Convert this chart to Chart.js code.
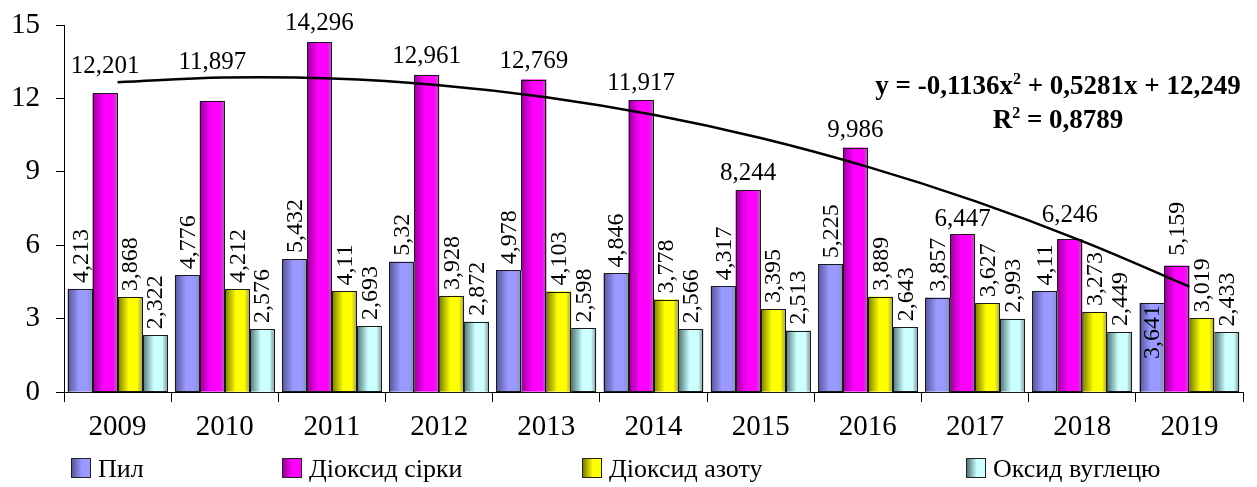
<!DOCTYPE html>
<html>
<head>
<meta charset="utf-8">
<script src="https://cdn.jsdelivr.net/npm/chart.js@4"></script>
<style>
  body { margin: 0; background: #fff; }
  #wrap { position: relative; width: 1257px; height: 487px; font-family: "Liberation Serif", "Times New Roman", serif; color: #000; }
  #chart { position: absolute; left: 0; top: 0; }
  .legend-item { position: absolute; top: 456px; font-family: "Liberation Serif", "Times New Roman", serif; font-size: 26px; line-height: 26px; white-space: nowrap; }
  .legend-box { display: inline-block; width: 18px; height: 18px; border: 1px solid #222; vertical-align: -1px; margin-right: 7px; }
  #equation { position: absolute; left: 860px; width: 396px; top: 68px; text-align: center; font-weight: bold; font-size: 27px; line-height: 34px; }
  #equation sup { font-size: 16px; vertical-align: 10px; line-height: 0; }
</style>
</head>
<body>
<div id="wrap">
  <canvas id="chart" width="1257" height="487"></canvas>
  <div id="legend"></div>
  <div id="equation">y = -0,1136x<sup>2</sup> + 0,5281x + 12,249<br>R<sup>2</sup> = 0,8789</div>
</div>
<script>
const years = ['2009', '2010', '2011', '2012', '2013', '2014', '2015', '2016', '2017', '2018', '2019'];
const seriesNames = ['Пил', 'Діоксид сірки', 'Діоксид азоту', 'Оксид вуглецю'];
const dust = [4.213, 4.776, 5.432, 5.32, 4.978, 4.846, 4.317, 5.225, 3.857, 4.11, 3.641];
const sulfurDioxide = [12.201, 11.897, 14.296, 12.961, 12.769, 11.917, 8.244, 9.986, 6.447, 6.246, 5.159];
const nitrogenDioxide = [3.868, 4.212, 4.11, 3.928, 4.103, 3.778, 3.395, 3.889, 3.627, 3.273, 3.019];
const carbonOxide = [2.322, 2.576, 2.693, 2.872, 2.598, 2.566, 2.513, 2.643, 2.993, 2.449, 2.433];
// polynomial trend of sulfur dioxide, read at each year
const trendValues = [12.66, 12.85, 12.81, 12.54, 12.05, 11.33, 10.38, 9.20, 7.80, 6.17, 4.31];
const yTicks = [0, 3, 6, 9, 12, 15];

const baseColors = ['#9999ff', '#ff00ff', '#ffff00', '#ccffff'];
const darkColors = ['#55559a', '#9a009a', '#7a7a00', '#4d7373'];
const legendLeft = [71, 282, 582, 966];
// extra room between a sulfur label and its bar
const sulfurLift = [20, 32, 12, 12, 12, 10, 10, 11, 8, 17, 10];

const FONT = '"Liberation Serif", "Times New Roman", serif';

function shade(ctx, i, left, width) {
    let g = ctx.createLinearGradient(left, 0, left + width, 0);
    g.addColorStop(0, darkColors[i]);
    g.addColorStop(0.45, baseColors[i]);
    g.addColorStop(0.8, baseColors[i]);
    g.addColorStop(1, darkColors[i] + '99');
    return g;
}

const barShade = {
    id: 'barShade',
    afterDatasetDraw(chart, args) {
        if (args.meta.type !== 'bar') return;
        const ctx = chart.ctx;
        const i = args.index;
        ctx.save();
        args.meta.data.forEach(bar => {
            const p = bar.getProps(['x', 'y', 'base', 'width'], true);
            const left = p.x - p.width / 2;
            ctx.fillStyle = '#fff';
            ctx.fillRect(left, p.y, p.width, p.base - p.y);
            ctx.fillStyle = shade(ctx, i, left, p.width);
            ctx.fillRect(left, p.y, p.width, p.base - p.y);
            ctx.strokeStyle = '#1a1a1a';
            ctx.lineWidth = 1;
            ctx.strokeRect(Math.round(left) + 0.5, Math.round(p.y) + 0.5, Math.round(p.width) - 1, Math.round(p.base - p.y));
        });
        ctx.restore();
    }
};

function fmt(v) {
    return String(v).replace('.', ',');
}

const barLabels = {
    id: 'barLabels',
    afterDatasetsDraw(chart) {
        const ctx = chart.ctx;
        ctx.save();
        ctx.fillStyle = '#000';
        for (let d = 0; d < 4; d++) {
            const meta = chart.getDatasetMeta(d);
            const values = chart.data.datasets[d].data;
            meta.data.forEach((bar, j) => {
                const p = bar.getProps(['x', 'y'], true);
                const text = fmt(values[j]);
                if (d === 1 && j < years.length - 1) {
                    ctx.font = '25px ' + FONT;
                    ctx.textAlign = 'center';
                    ctx.textBaseline = 'alphabetic';
                    ctx.fillText(text, p.x, p.y - sulfurLift[j]);
                    return;
                }
                ctx.font = '24px ' + FONT;
                ctx.save();
                if (d === 0 && j === years.length - 1) {
                    // sits inside the bar, clear of the trend line
                    ctx.translate(p.x + 1, p.y + 2);
                    ctx.rotate(-Math.PI / 2);
                    ctx.textAlign = 'right';
                } else {
                    const gap = d === 1 ? 10 : 6;
                    ctx.translate(p.x + 1, p.y - gap);
                    ctx.rotate(-Math.PI / 2);
                    ctx.textAlign = 'left';
                }
                ctx.textBaseline = 'middle';
                ctx.fillText(text, 0, 0);
                ctx.restore();
            });
        }
        ctx.restore();
    }
};

function makeBar(i, values) {
    return {
        type: 'bar',
        label: seriesNames[i],
        data: values,
        backgroundColor: baseColors[i],
        borderWidth: 0,
        categoryPercentage: 0.93,
        barPercentage: 1.0,
        order: 1
    };
}

function createChart() {
    new Chart(document.getElementById('chart'), {
        data: {
            labels: years,
            datasets: [
                makeBar(0, dust),
                makeBar(1, sulfurDioxide),
                makeBar(2, nitrogenDioxide),
                makeBar(3, carbonOxide),
                {
                    type: 'line',
                    label: 'Поліноміальна (Діоксид сірки)',
                    data: trendValues,
                    borderColor: '#000',
                    borderWidth: 2.5,
                    pointRadius: 0,
                    tension: 0.4,
                    fill: false,
                    order: 0
                }
            ]
        },
        options: {
            responsive: false,
            animation: false,
            devicePixelRatio: 1,
            layout: { padding: { top: 25, right: 14, left: 0, bottom: 0 } },
            plugins: { legend: { display: false }, tooltip: { enabled: false } },
            scales: {
                x: {
                    afterFit(scale) { scale.height = 95; },
                    grid: { drawOnChartArea: false, drawTicks: true, tickLength: 10, color: '#000', offset: true },
                    border: { color: '#000', width: 1 },
                    ticks: { color: '#000', padding: 8, font: { family: FONT, size: 29 } }
                },
                y: {
                    min: yTicks[0],
                    max: yTicks[yTicks.length - 1],
                    afterFit(scale) {
                        scale.width = 64;
                        scale.paddingTop = 0;
                        scale.paddingBottom = 0;
                    },
                    grid: { drawOnChartArea: false, drawTicks: true, tickLength: 8, color: '#000' },
                    border: { color: '#000', width: 1 },
                    ticks: { stepSize: yTicks[1] - yTicks[0], color: '#000', padding: 16, font: { family: FONT, size: 29 } }
                }
            }
        },
        plugins: [barShade, barLabels]
    });
}

function renderLegend() {
    const box = document.getElementById('legend');
    box.innerHTML = seriesNames.map((name, i) => `
        <div class="legend-item" style="left:${legendLeft[i]}px">
            <span class="legend-box" style="background:linear-gradient(90deg, ${darkColors[i]}, ${baseColors[i]} 55%, ${baseColors[i]})"></span>${name}
        </div>`).join('');
}

createChart();
renderLegend();
</script>
</body>
</html>
